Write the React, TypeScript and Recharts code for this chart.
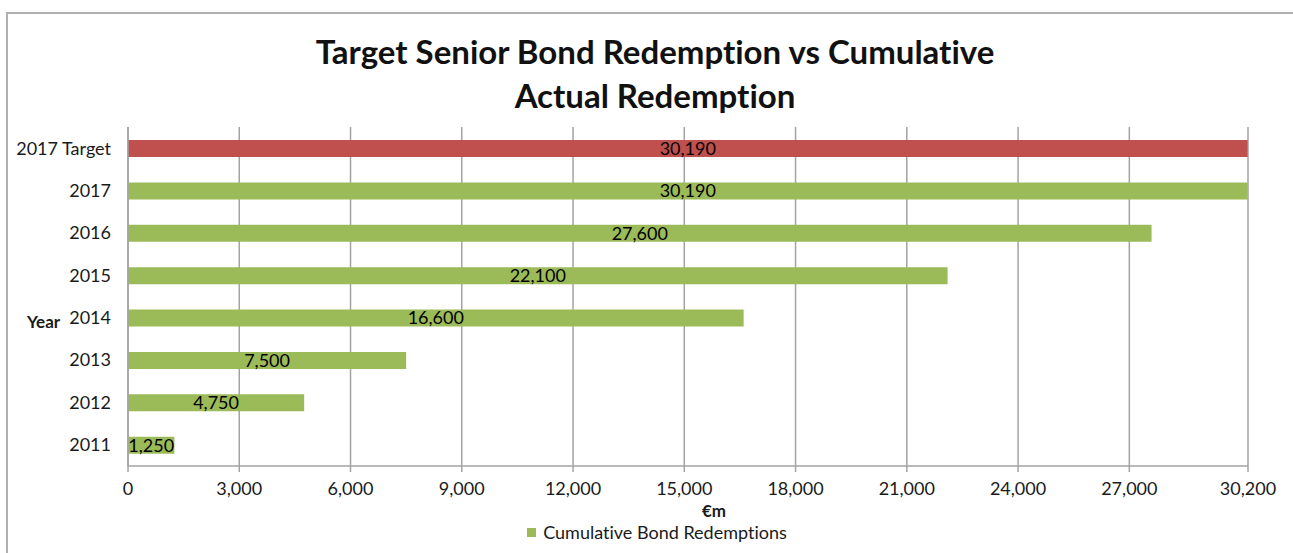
import {
  Bar,
  BarChart,
  CartesianGrid,
  Cell,
  LabelList,
  Legend,
  XAxis,
  YAxis,
} from "recharts";

const categories = ["2017 Target", "2017", "2016", "2015", "2014", "2013", "2012", "2011"];
const redemptions = [30190, 30190, 27600, 22100, 16600, 7500, 4750, 1250];
const xTicks = [0, 3000, 6000, 9000, 12000, 15000, 18000, 21000, 24000, 27000, 30200];
const bandEdges = [0, 1, 2, 3, 4, 5, 6, 7, 8];

const data = categories.map((year, i) => ({ year, value: redemptions[i] }));

const FONT = "Lato, 'Open Sans', sans-serif";
const GREEN = "#9bbb59";
const RED = "#c0504d";
const GRID = "#a3a3a3";
const TEXT = "#1a1a1a";

const fmt = (v: number) => v.toLocaleString("en-US");

function LegendBox() {
  return (
    <div style={{ display: "flex", justifyContent: "center", alignItems: "center", fontFamily: FONT, fontSize: 18, color: TEXT, fontVariantLigatures: "none" }}>
      <span style={{ width: 9, height: 9, background: GREEN, display: "inline-block", marginRight: 7 }} />
      <span>Cumulative Bond Redemptions</span>
    </div>
  );
}

export default function App() {
  return (
    <div style={{ position: "absolute", left: 0, top: 0, width: 1293, height: 553, overflow: "hidden", background: "#fff" }}>
      <div
        style={{
          position: "absolute",
          left: 6,
          top: 12,
          width: 1400,
          height: 700,
          borderTop: "2px solid #b0b0b0",
          borderLeft: "2px solid #b0b0b0",
        }}
      />
      <div
        style={{
          position: "absolute",
          left: 155,
          top: 29,
          width: 1000,
          textAlign: "center",
          fontFamily: FONT,
          fontWeight: 700,
          fontSize: 33,
          lineHeight: "44px",
          color: "#111",
          fontVariantLigatures: "none",
        }}
      >
        Target Senior Bond Redemption vs Cumulative
        <br />
        Actual Redemption
      </div>
      <div style={{ position: "absolute", left: 0, top: 0 }}>
        <BarChart
          width={1293}
          height={553}
          data={data}
          layout="vertical"
          margin={{ top: 127, right: 45, bottom: 33, left: 0 }}
          barSize={17}
        >
          <CartesianGrid horizontal={false} stroke={GRID} strokeWidth={1.5} />
          <XAxis
            type="number"
            domain={[0, 30200]}
            ticks={xTicks}
            tickFormatter={fmt}
            height={30}
            interval={0}
            tick={{ fill: TEXT, fontSize: 18, fontFamily: FONT }}
            tickSize={6}
            tickMargin={10}
            axisLine={{ stroke: GRID, strokeWidth: 1.5 }}
            tickLine={{ stroke: GRID, strokeWidth: 1.5 }}
            label={{ value: "€m", position: "insideBottom", offset: -21, dx: 26, fill: TEXT, fontSize: 17, fontWeight: 700, fontFamily: FONT }}
          />
          <YAxis
            yAxisId="edges"
            type="number"
            domain={[0, 8]}
            ticks={bandEdges}
            width={0}
            tick={false}
            tickSize={5}
            axisLine={false}
            tickLine={{ stroke: GRID, strokeWidth: 1.5 }}
          />
          <YAxis
            yAxisId="cat"
            type="category"
            dataKey="year"
            width={128}
            tickLine={false}
            tickMargin={11}
            tick={{ fill: TEXT, fontSize: 18, fontFamily: FONT }}
            axisLine={{ stroke: GRID, strokeWidth: 1.5 }}
            label={{ value: "Year", position: "insideLeft", angle: 0, offset: 27, dy: 25, fill: TEXT, fontSize: 17, fontWeight: 700, fontFamily: FONT }}
          />
          <Legend verticalAlign="bottom" height={24} wrapperStyle={{ top: 521, left: 0, width: 1314 }} content={() => <LegendBox />} />
          <Bar dataKey="value" yAxisId="cat" name="Cumulative Bond Redemptions" fill={GREEN} isAnimationActive={false}>
            {data.map((d, i) => (
              <Cell key={d.year} fill={i === 0 ? RED : GREEN} />
            ))}
            <LabelList dataKey="value" position="center" formatter={(v: number) => fmt(v)} fill="#000" fontSize={18} fontFamily={FONT} />
          </Bar>
        </BarChart>
      </div>
    </div>
  );
}
